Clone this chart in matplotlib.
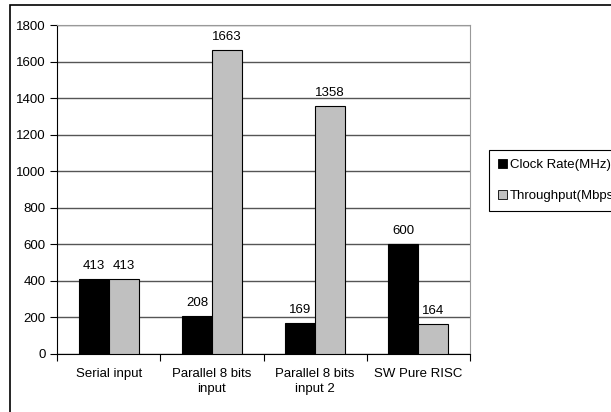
import matplotlib.pyplot as plt
import numpy as np
from matplotlib.patches import Patch, Rectangle

plt.rcParams['font.family'] = ['Liberation Sans', 'DejaVu Sans']
plt.rcParams['font.size'] = 9.5

categories = ['Serial input', 'Parallel 8 bits\ninput', 'Parallel 8 bits\ninput 2', 'SW Pure RISC']
clock_rate = [413, 208, 169, 600]
throughput = [413, 1663, 1358, 164]
series_names = ['Clock Rate(MHz)', 'Throughput(Mbps)']

W, H = 611, 412
fig = plt.figure(figsize=(W / 100, H / 100), dpi=100)

# outer chart border (runs past the right and bottom edges)
fig.patches.append(Rectangle((10 / W, -0.1), 1.2, 1.1 - 5 / H, transform=fig.transFigure,
                             fill=False, edgecolor='black', linewidth=1.2))

ax = fig.add_axes([57 / W, 1 - 354 / H, (470 - 57) / W, (354 - 25) / H])

x = np.arange(len(categories))
w = 0.29
b1 = ax.bar(x - w / 2, clock_rate, w, color='black', edgecolor='black', linewidth=0.8, zorder=3)
b2 = ax.bar(x + w / 2, throughput, w, color='#c0c0c0', edgecolor='black', linewidth=0.8, zorder=3)
ax.bar_label(b1, padding=5)
ax.bar_label(b2, padding=5)

ax.set_ylim(0, 1800)
ax.set_yticks(range(0, 1801, 200))
ax.set_xlim(-0.5, len(categories) - 0.5)
ax.yaxis.grid(True, color='#555555', linewidth=1.0, zorder=0)
ax.set_axisbelow(True)

# ticks sit between categories, labels centred under each group
ax.set_xticks(np.arange(-0.5, len(categories), 1.0))
ax.set_xticklabels([])
ax.set_xticks(x, minor=True)
ax.set_xticklabels(categories, minor=True, linespacing=1.4)
ax.tick_params(axis='x', which='minor', length=0, pad=10)
ax.tick_params(axis='x', which='major', length=5, direction='out', width=0.8)
ax.tick_params(axis='y', length=5, direction='out', width=0.8, pad=3)

for side in ['top', 'right']:
    ax.spines[side].set_color('#999999')
ax.spines['left'].set_color('black')
ax.spines['bottom'].set_color('black')

handles = [Patch(facecolor='black', edgecolor='black', linewidth=0.6),
           Patch(facecolor='#c0c0c0', edgecolor='black', linewidth=0.6)]
leg = fig.legend(handles, series_names, loc='upper left',
                 bbox_to_anchor=(489 / W, 1 - 150 / H), bbox_transform=fig.transFigure,
                 fancybox=False, frameon=True, edgecolor='black', framealpha=1,
                 handlelength=0.7, handleheight=0.7, handletextpad=0.2,
                 labelspacing=1.4, borderpad=0.7, borderaxespad=0)
leg.get_frame().set_linewidth(0.8)

fig.savefig('out.png', dpi=100)
